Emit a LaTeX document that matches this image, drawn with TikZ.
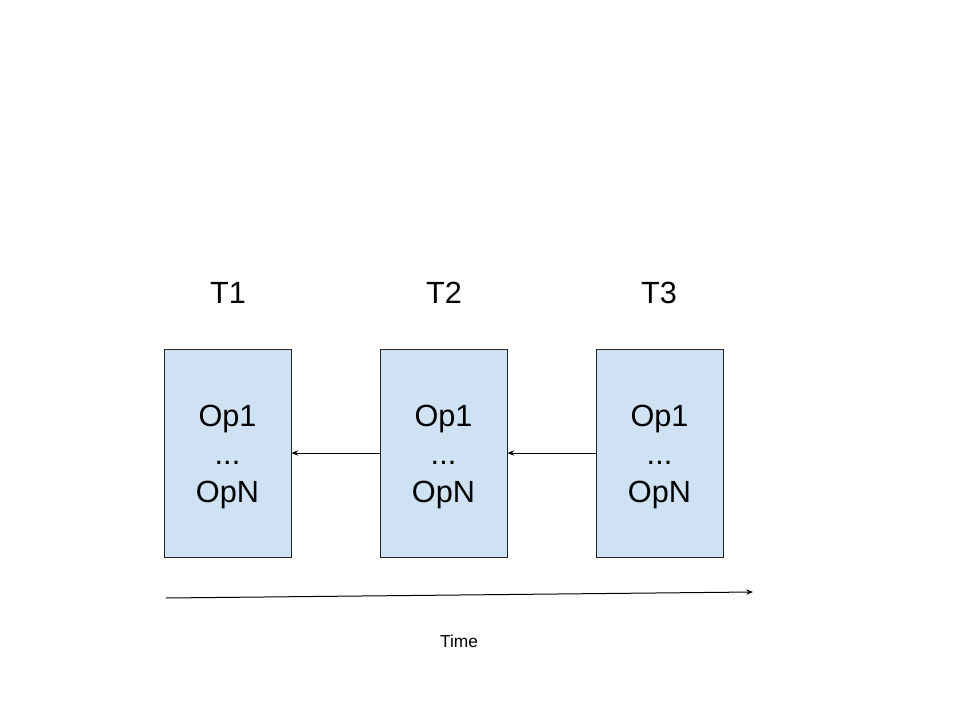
\documentclass[tikz,border=0pt]{standalone}
\usepackage{fontspec}
\setmainfont{Liberation Sans}
\usetikzlibrary{arrows.meta}
\definecolor{boxblue}{HTML}{CFE2F3}
\begin{document}
\begin{tikzpicture}[x=0.75pt,y=-0.75pt,
  opbox/.style={draw=black!85, fill=boxblue, line width=0.75pt, minimum width=127*0.75pt, minimum height=208*0.75pt, inner sep=0pt},
  optext/.style={align=center, inner sep=0pt, font=\fontsize{23}{28.5}\selectfont},
  tlabel/.style={font=\fontsize{23}{28}\selectfont},
  conn/.style={line width=0.75pt, -{Stealth[length=5pt,width=4pt]}}]
\useasboundingbox (0,0) rectangle (960,720);
\node[opbox] (b1) at (227.5,453) {};
\node[opbox] (b2) at (443.5,453) {};
\node[opbox] (b3) at (659.5,453) {};
\node[optext] (x1) at ([yshift=-3pt]b1.center) {Op1\\...\\OpN};
\node[optext] (x2) at ([yshift=-3pt]b2.center) {Op1\\...\\OpN};
\node[optext] (x3) at ([yshift=-3pt]b3.center) {Op1\\...\\OpN};
\node[tlabel] (t1) at (228,293) {T1};
\node[tlabel] (t2) at (444,293) {T2};
\node[tlabel] (t3) at (659,293) {T3};
\draw[conn] (b2.west) -- (b1.east);
\draw[conn] (b3.west) -- (b2.east);
\coordinate (ts) at (166,598);
\coordinate (te) at (753,592);
\draw[conn] (ts) -- (te);
\node[font=\fontsize{13}{16}\selectfont] (time) at (459,641) {Time};
\end{tikzpicture}
\end{document}
